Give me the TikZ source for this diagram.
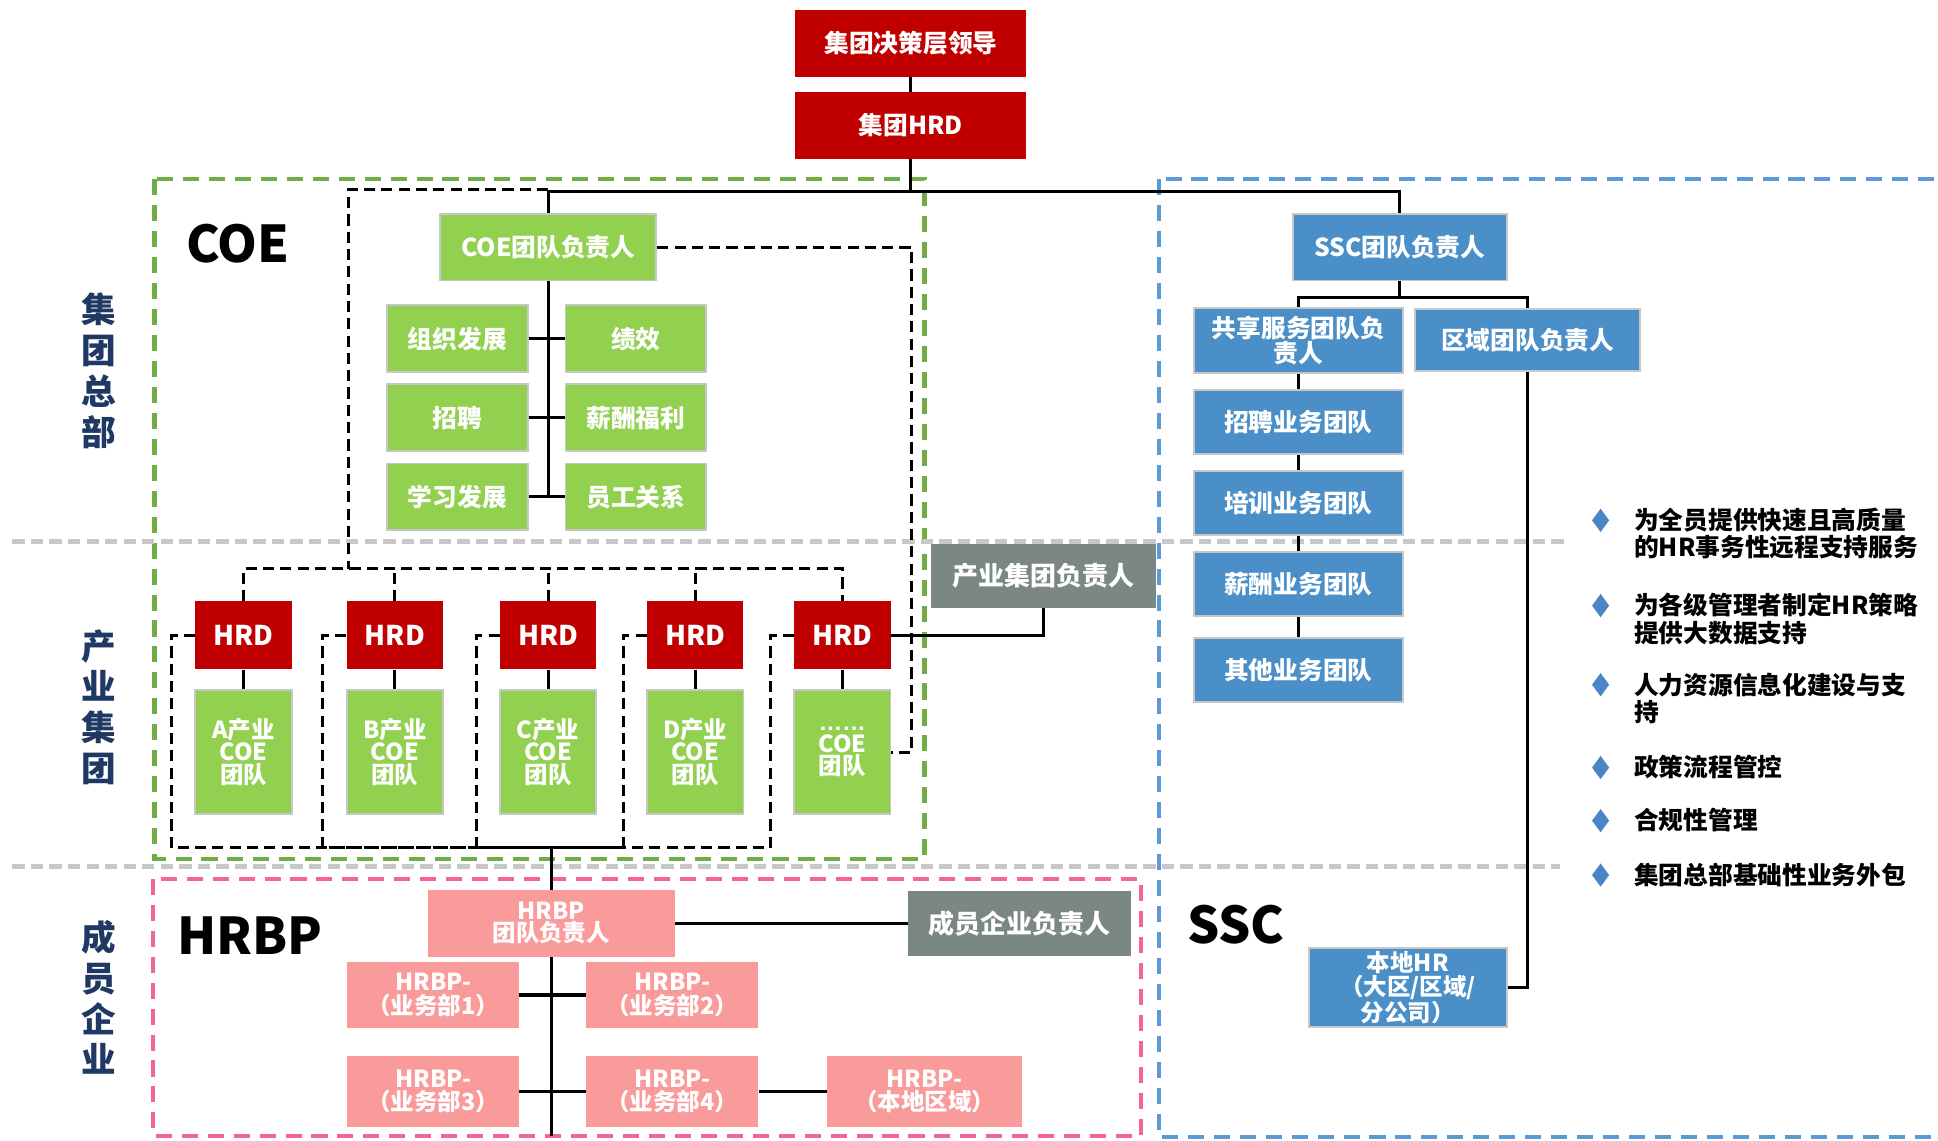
\documentclass[tikz,border=0pt]{standalone}
\usepackage{fontspec}
\setmainfont{Noto Sans CJK SC}
\newfontfamily\dotsfont{Liberation Sans}
\usetikzlibrary{positioning,shapes.geometric,calc}

\definecolor{hqred}{HTML}{C00000}
\definecolor{coegreen}{HTML}{92D050}
\definecolor{sscblue}{HTML}{4A8FC7}
\definecolor{leadgray}{HTML}{7A8784}
\definecolor{bppink}{HTML}{F99B9B}
\definecolor{navy}{HTML}{1F3864}
\definecolor{framegreen}{HTML}{70AD47}
\definecolor{frameblue}{HTML}{5B9BD5}
\definecolor{framepink}{HTML}{F36592}
\definecolor{rowgray}{HTML}{C8C8C8}
\definecolor{dotblue}{HTML}{4A86C5}

\begin{document}
\begin{tikzpicture}[x=1pt, y=-1pt,
    box/.style={rectangle, inner sep=0pt, text=white, align=center, font=\bfseries\fontsize{20}{20}\selectfont},
    redbox/.style={box, fill=hqred},
    greenbox/.style={box, fill=coegreen, draw=black!22, line width=1.5pt},
    bluebox/.style={box, fill=sscblue, draw=black!22, line width=1.5pt},
    graybox/.style={box, fill=leadgray, font=\bfseries\fontsize{21}{21}\selectfont},
    pinkbox/.style={box, fill=bppink, font=\bfseries\fontsize{19}{19}\selectfont},
    link/.style={line width=2.5pt},
    dashlink/.style={line width=2.4pt, dash pattern=on 9pt off 5pt},
    zoneframe/.style={line width=3.4pt, dash pattern=on 13pt off 8pt},
    rowline/.style={line width=3.5pt, rowgray, dash pattern=on 10pt off 5pt},
    zone/.style={navy, font=\bfseries\fontsize{28}{33}\selectfont, align=center},
    bigname/.style={anchor=west, font=\bfseries\fontsize{41}{41}\selectfont},
    bullet/.style={diamond, fill=dotblue, inner sep=0pt, minimum width=14pt, minimum height=19pt},
    bullettext/.style={anchor=north west, inner sep=0pt, align=left, font=\bfseries\fontsize{20}{22}\selectfont}]

    \path[use as bounding box, fill=white] (0,0) rectangle (1568,923);

    % Frames and rows
    \draw[zoneframe, framegreen] (125,145) rectangle (748,695);
    \draw[zoneframe, frameblue] (938,145) rectangle (1600,920);
    \draw[zoneframe, framepink] (124,711) rectangle (923,919);
    \draw[rowline] (10,438) -- (1265,438);
    \draw[rowline] (10,701) -- (1262,701);

    \node[zone] (hq) at (80,300) {集\\团\\总\\部};
    \node[zone] (ind) at (80,572) {产\\业\\集\\团};
    \node[zone] (mem) at (80,807) {成\\员\\企\\业};

    \node[bigname] (coename) at (147,197) {COE};
    \node[bigname] (bpname) at (140,757) {HRBP};
    \node[bigname] (sscname) at (957,748) {SSC};

    % Group top
    \node[redbox, minimum width=187, minimum height=54] (glead) at (737,35) {集团决策层领导};
    \node[redbox, minimum width=187, minimum height=54, below=12pt of glead] (ghrd) {集团HRD};
    \draw[link] (glead) -- (ghrd);

    % COE
    \node[greenbox, minimum width=175, minimum height=54] (coelead) at (443.5,200) {COE团队负责人};
    \node[greenbox, minimum width=114, minimum height=54] (od) at (370,274) {组织发展};
    \node[greenbox, minimum width=114, minimum height=54] (perf) at (514.5,274) {绩效};
    \node[greenbox, minimum width=114, minimum height=54] (recr) at (370,338) {招聘};
    \node[greenbox, minimum width=114, minimum height=54] (comp) at (514.5,338) {薪酬福利};
    \node[greenbox, minimum width=114, minimum height=54] (learn) at (370,402) {学习发展};
    \node[greenbox, minimum width=114, minimum height=54] (emp) at (514.5,402) {员工关系};

    \coordinate (split) at (737,155);
    \draw[link] (ghrd.south) -- (split);
    \draw[link] (coelead.south) -- (coelead.south |- emp.west);
    \draw[link] (od) -- (perf);
    \draw[link] (recr) -- (comp);
    \draw[link] (learn) -- (emp);

    % Industry groups
    \foreach \i/\x/\lab in {a/197/{A产业\\COE\\团队}, b/319.5/{B产业\\COE\\团队}, c/443.5/{C产业\\COE\\团队}, d/562.5/{D产业\\COE\\团队}, e/681.5/{{\dotsfont ……}\\COE\\团队}} {
        \node[redbox, minimum width=78, minimum height=55, font=\bfseries\fontsize{22}{22}\selectfont] (hrd\i) at (\x,514) {HRD};
        \node[greenbox, minimum width=78, minimum height=100, font=\bfseries\fontsize{19}{18}\selectfont, below=16pt of hrd\i] (team\i) {\lab};
        \draw[link] (hrd\i) -- (team\i);
    }

    \coordinate (coebar) at (282,460);
    \coordinate (coefoot) at (443.5,686);
    \draw[dashlink] (coelead.north |- 0,153) -| (coebar);
    \draw[dashlink] (hrda.north) |- (coebar) -| (hrde.north);
    \foreach \i in {b,c,d}
        \draw[dashlink] (hrd\i.north) -- (hrd\i.north |- coebar);
    \foreach \i in {a,b,c,d,e}
        \draw[dashlink] (hrd\i.west) -- ++(-19,0) |- (coefoot);
    \draw[dashlink] (coelead.east) -- ++(206,0) |- (teame.east);

    \node[graybox, minimum width=182, minimum height=52] (indlead) at (844,466) {产业集团负责人};
    \draw[link] (indlead.south) |- (hrde.east);

    % HRBP
    \node[pinkbox, minimum width=200, minimum height=54, font=\bfseries\fontsize{19}{18}\selectfont] (bplead) at (446,747) {HRBP\\团队负责人};
    \node[graybox, minimum width=180, minimum height=53] (memlead) at (825,747) {成员企业负责人};
    \node[pinkbox, minimum width=139, minimum height=53] (bp1) at (350.5,805) {HRBP-\\（业务部1）};
    \node[pinkbox, minimum width=139, minimum height=53] (bp2) at (544,805) {HRBP-\\（业务部2）};
    \node[pinkbox, minimum width=139, minimum height=58] (bp3) at (350.5,883) {HRBP-\\（业务部3）};
    \node[pinkbox, minimum width=139, minimum height=58] (bp4) at (544,883) {HRBP-\\（业务部4）};
    \node[pinkbox, minimum width=158, minimum height=58] (bp5) at (748,883) {HRBP-\\（本地区域）};

    \coordinate (bpend) at (446,919);
    \draw[link] (bplead.north) -- (bplead.north |- coefoot);
    \draw[link] (bplead) -- (memlead);
    \draw[link] (bplead.south) -- (bpend);
    \draw[link] (bp1) -- (bp2);
    \draw[link] (bp3) -- (bp4);
    \draw[link] (bp4) -- (bp5);

    % SSC
    \node[bluebox, minimum width=173, minimum height=54] (ssclead) at (1132.5,200) {SSC团队负责人};
    \node[bluebox, minimum width=169, minimum height=53, font=\bfseries\fontsize{20}{17}\selectfont] (share) at (1050.5,275.5) {共享服务团队负\\责人};
    \node[bluebox, minimum width=182, minimum height=50] (region) at (1236,275) {区域团队负责人};
    \node[bluebox, minimum width=169, minimum height=52, below=12pt of share] (sscrec) {招聘业务团队};
    \node[bluebox, minimum width=169, minimum height=52, below=12pt of sscrec] (ssctrain) {培训业务团队};
    \node[bluebox, minimum width=169, minimum height=52, below=12pt of ssctrain] (sscpay) {薪酬业务团队};
    \node[bluebox, minimum width=169, minimum height=52, below=16pt of sscpay] (sscother) {其他业务团队};
    \node[bluebox, minimum width=160, minimum height=64, font=\bfseries\fontsize{19}{18}\selectfont] (localhr) at (1139,799) {本地HR\\（大区/区域/\\分公司）};

    \draw[link] (coelead.north) |- (split) -| (ssclead.north);
    \draw[link] (ssclead.south) -- ++(0,13) coordinate (sscfork);
    \draw[link] (share.north) |- (sscfork) -| (region.north);
    \draw[link] (share) -- (sscrec);
    \draw[link] (sscrec) -- (ssctrain);
    \draw[link] (ssctrain) -- (sscpay);
    \draw[link] (sscpay) -- (sscother);
    \draw[link] (region.south) |- (localhr.east);

    % SSC duties
    \foreach \y/\txt [count=\k] in {421/{为全员提供快速且高质量\\的HR事务性远程支持服务}, 490/{为各级管理者制定HR策略\\提供大数据支持}, 554/{人力资源信息化建设与支\\持}, 621/{政策流程管控}, 664/{合规性管理}, 708/{集团总部基础性业务外包}} {
        \node[bullet] (dot\k) at (1295,\y) {};
        \node[bullettext] (duty\k) at (1322,\y-10) {\txt};
    }

\end{tikzpicture}
\end{document}
